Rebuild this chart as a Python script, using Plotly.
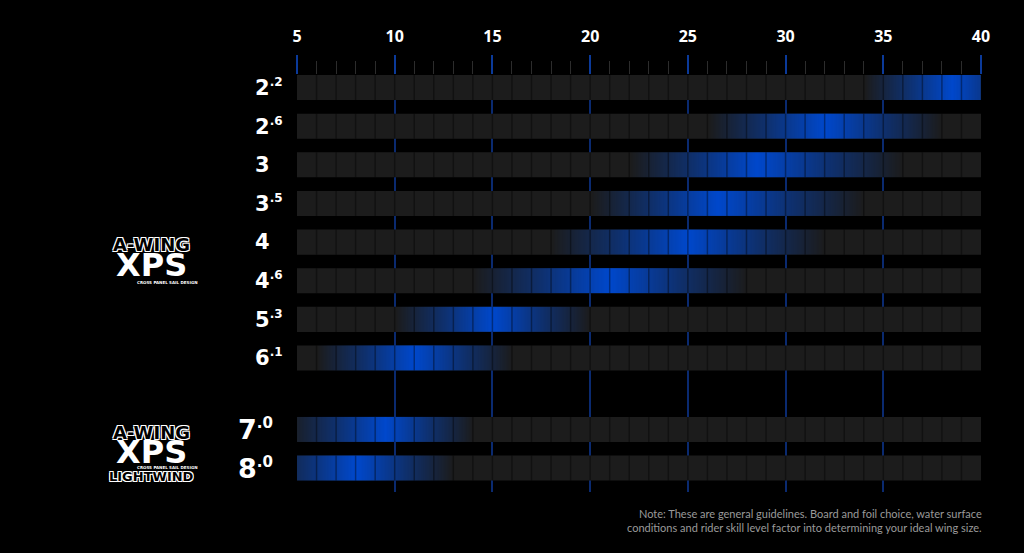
import plotly.graph_objects as go

# ---------------- data ----------------
sizes = ["2.2", "2.6", "3", "3.5", "4", "4.6", "5.3", "6.1", "7.0", "8.0"]
series = ["XPS"] * 8 + ["XPS LIGHTWIND"] * 2
wind_start = [34, 26, 22, 20, 18, 14, 10, 6, 4.5, 3]      # knots, where the range fades in
wind_peak = [38.5, 32, 28.5, 26.5, 25, 21, 15, 11, 9.5, 8]  # knots, ideal
wind_end = [43, 38, 36, 34, 32, 28, 20, 16, 14, 13]        # knots, where the range fades out
wind_ticks = [5, 10, 15, 20, 25, 30, 35, 40]
note_lines = [
    "Note: These are general guidelines. Board and foil choice, water surface",
    "conditions and rider skill level factor into determining your ideal wing size.",
]

# ---------------- layout constants ----------------
W, H = 1024, 553
L, R, T, B = 297, 43, 75, 61
PW, PH = W - L - R, H - T - B
X_MIN, X_MAX = wind_ticks[0], wind_ticks[-1]
BAR_H = 0.65
GROUP_GAP = 0.85
PX_PER_UNIT = 38.63

groups = list(dict.fromkeys(series))
ypos = [i + GROUP_GAP * groups.index(g) for i, g in enumerate(series)]
y_top = -BAR_H / 2
y_bot = y_top + PH / PX_PER_UNIT

BG = "#000000"
CELL = "#1c1c1c"
GRID_BLUE = "#0a2a70"
BLUE = "0,72,204"


def px_x(px):
    return (px - L) / PW


def px_y(py):
    return (T + PH - py) / PH


fig = go.Figure()

shapes = []
for y in ypos:
    shapes.append(dict(type="rect", layer="between", xref="x", yref="y",
                       x0=X_MIN, x1=X_MAX, y0=y - BAR_H / 2, y1=y + BAR_H / 2,
                       fillcolor=CELL, line=dict(width=0)))

# blue gradient ranges
for y, s, p, e in zip(ypos, wind_start, wind_peak, wind_end):
    fig.add_trace(go.Heatmap(
        x=[s, p, e], y=[y - BAR_H / 2, y, y + BAR_H / 2],
        z=[[0, 1, 0], [0, 1, 0]], zmin=0, zmax=1, zsmooth="best",
        colorscale=[[0, f"rgba({BLUE},0)"], [0.5, f"rgba({BLUE},0.47)"], [1, f"rgba({BLUE},1)"]],
        showscale=False, hoverinfo="skip"))

# cell dividers
dx, dy = [], []
for y in ypos:
    for k in range(X_MIN + 1, X_MAX):
        dx += [k, k, None]
        dy += [y - BAR_H / 2, y + BAR_H / 2, None]
fig.add_trace(go.Scatter(x=dx, y=dy, mode="lines", line=dict(color="rgba(0,0,0,0.38)", width=1.5),
                         hoverinfo="skip", showlegend=False))

annotations = []
label_style = {
    "XPS": dict(x=253, size=21, sup=12),
    "XPS LIGHTWIND": dict(x=236, size=27, sup=15),
}
for y, s, g in zip(ypos, sizes, series):
    st = label_style[g]
    main, _, frac = s.partition(".")
    txt = f"<b>{main}</b>"
    if frac:
        txt += f"<sup><span style='font-size:{st['sup']}px'><b>.{frac}</b></span></sup>"
    annotations.append(dict(x=px_x(st["x"]), xref="paper", y=y, yref="y", text=txt,
                            showarrow=False, xanchor="left", yanchor="middle",
                            font=dict(family="DejaVu Sans", size=st["size"], color="white")))

outline = "-1px -1px 0 #fff, 1px -1px 0 #fff, -1px 1px 0 #fff, 1px 1px 0 #fff"


def logo(cy_awing, cy_xps, cy_small, cy_light=None):
    out = [
        dict(x=px_x(151), y=px_y(cy_awing), text="A-WING",
             font=dict(family="DejaVu Sans", size=18, color="#000", weight="bold", shadow=outline)),
        dict(x=px_x(151), y=px_y(cy_xps), text="<b>XPS</b>",
             font=dict(family="DejaVu Sans", size=32, color="white")),
        dict(x=px_x(167), y=px_y(cy_small), text="CROSS PANEL SAIL DESIGN",
             font=dict(family="DejaVu Sans", size=4, color="white", weight="bold")),
    ]
    if cy_light is not None:
        out.append(dict(x=px_x(151), y=px_y(cy_light), text="LIGHTWIND",
                        font=dict(family="DejaVu Sans", size=13, color="#000", weight="bold", shadow=outline)))
    for a in out:
        a.update(xref="paper", yref="paper", showarrow=False, xanchor="center", yanchor="middle")
    return out


annotations += logo(244, 265, 282)
annotations += logo(432, 452, 467, 476)

annotations.append(dict(x=px_x(984), xref="paper", y=px_y(520), yref="paper", text="<br>".join(note_lines),
                        showarrow=False, xanchor="right", yanchor="middle", align="right",
                        font=dict(family="Lato", size=11, color="#9a9a9a")))

fig.update_layout(
    width=W, height=H, margin=dict(l=L, r=R, t=T, b=B),
    paper_bgcolor=BG, plot_bgcolor=BG, showlegend=False,
    shapes=shapes, annotations=annotations,
    xaxis=dict(range=[X_MIN, X_MAX], side="top", tickmode="array", tickvals=wind_ticks,
               ticks="outside", ticklen=19, tickwidth=1.5, tickcolor="#0b3a9a",
               tickfont=dict(family="Open Sans", size=16, color="white", weight="bold"),
               ticklabelstandoff=7,
               showgrid=True, gridcolor=GRID_BLUE, gridwidth=1.5, zeroline=False, showline=False,
               minor=dict(ticks="outside", ticklen=13, tickwidth=1, tickcolor="#2c2c2c",
                          dtick=1, tick0=0, showgrid=False),
               fixedrange=True),
    yaxis=dict(range=[y_bot, y_top], showticklabels=False, showgrid=False, zeroline=False,
               showline=False, ticks="", fixedrange=True),
)

fig.write_html("out.html", config={"displayModeBar": False},
               post_script="document.body.style.margin='0';document.body.style.background='#000';")
